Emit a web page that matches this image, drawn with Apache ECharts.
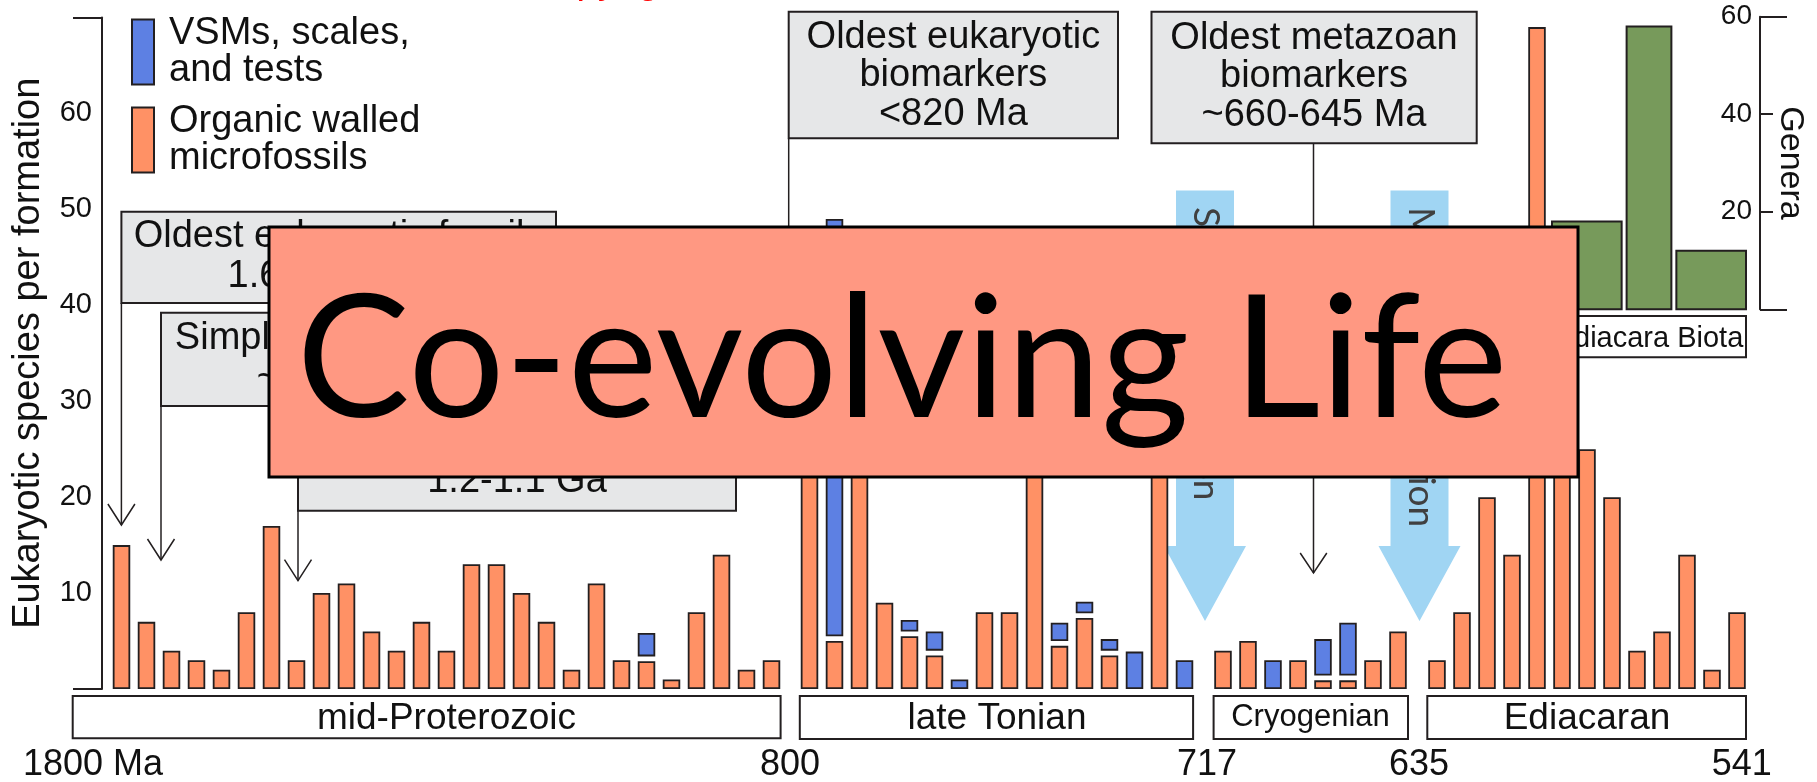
<!DOCTYPE html>
<html>
<head>
<meta charset="utf-8">
<title>Co-evolving Life</title>
<script src="https://cdn.jsdelivr.net/npm/echarts@6/dist/echarts.min.js"></script>
<style>
  html, body { margin: 0; padding: 0; background: #fff; }
  #chart { width: 1817px; height: 782px; }
</style>
</head>
<body>
<div id="chart"></div>
<script>
// eukaryotic species per formation, oldest formation first
// OWM = organic walled microfossils, VSM = vase shaped microfossils, scales and tests
const midProterozoicOwm = [15, 7, 4, 3, 2, 8, 17, 3, 10, 11, 6, 4, 7, 4, 13, 13, 10, 7, 2, 11, 3, 2.9, 1, 8, 14, 2, 3];
const midProterozoicVsm = [0, 0, 0, 0, 0, 0, 0, 0, 0, 0, 0, 0, 0, 0, 0, 0, 0, 0, 0, 0, 0, 2.45, 0, 0, 0, 0, 0];
const lateTonianOwm = [30, 5, 34, 9, 5.5, 3.5, 0, 8, 8, 27, 4.5, 7.4, 3.5, 0, 38, 0];
const lateTonianVsm = [0, 43.5, 0, 0, 1.2, 2, 1, 0, 0, 0, 1.9, 1.2, 1.2, 3.9, 0, 3];
const cryogenianOwm = [4, 5, 0, 3, 0.9, 0.9, 3, 6];
const cryogenianVsm = [0, 0, 3, 0, 3.8, 5.5, 0, 0];
const ediacaranOwm = [3, 8, 20, 14, 69, 33, 25, 20, 4, 6, 14, 2, 8];
const ediacaranVsm = [0, 0, 0, 0, 0, 0, 0, 0, 0, 0, 0, 0, 0];
const periodNames = ['mid-Proterozoic', 'late Tonian', 'Cryogenian', 'Ediacaran'];
const boundaryAges = ['1800 Ma', '800', '717', '635', '541'];

// Ediacara biota inset: genera per assemblage
const ediacaraAssemblages = ['Avalon', 'White Sea', 'Nama'];
const ediacaraStart = [580, 565, 555];
const ediacaraEnd = [566, 556, 541];
const ediacaraGenera = [18, 58, 12];

const ORANGE = '#FF9165';
const BLUE = '#5D80E3';
const GREEN = '#779A5B';
const EDGE = '#231F20';
const TXT = '#111';
const FONT = 'Liberation Sans, Arial, sans-serif';
const VSM_NAME = 'VSMs, scales,\nand tests';
const OWM_NAME = 'Organic walled\nmicrofossils';
const GAP = 0.5; // white gap drawn between stacked blocks

const periods = [
  { owm: midProterozoicOwm, vsm: midProterozoicVsm, grid: { left: 109, width: 675 }, nameSize: 37, nameGap: 11 },
  { owm: lateTonianOwm, vsm: lateTonianVsm, grid: { left: 797, width: 400 }, nameSize: 37, nameGap: 11 },
  { owm: cryogenianOwm, vsm: cryogenianVsm, grid: { left: 1210.5, width: 200 }, nameSize: 31, nameGap: 13 },
  { owm: ediacaranOwm, vsm: ediacaranVsm, grid: { left: 1424.5, width: 325 }, nameSize: 37, nameGap: 11 }
];

const grids = [], xAxes = [], yAxes = [], series = [];
const nz = v => (v > 0 ? v : null);

periods.forEach((p, i) => {
  grids.push({ left: p.grid.left, width: p.grid.width, top: 17.5, height: 671.5, outerBoundsMode: 'none' });
  xAxes.push({
    gridIndex: i, type: 'category', data: p.owm.map((_, k) => k + 1),
    axisLine: { show: false }, axisTick: { show: false }, axisLabel: { show: false },
    name: periodNames[i], nameLocation: 'middle', nameGap: p.nameGap, nameMoveOverlap: false,
    nameTextStyle: { fontSize: p.nameSize, fontFamily: FONT, color: TXT }
  });
});

// left axis: labels 10..60, end marks at 0 and 70
yAxes.push({
  gridIndex: 0, type: 'value', position: 'left', min: 0, max: 70, interval: 10, offset: 7,
  axisLine: { show: true, lineStyle: { color: EDGE, width: 2 } },
  axisTick: { show: false }, splitLine: { show: false },
  axisLabel: { fontSize: 29, fontFamily: FONT, color: TXT, margin: 10,
    formatter: v => (v === 0 || v === 70) ? '' : String(v) },
  name: 'Eukaryotic species per formation', nameLocation: 'middle', nameGap: 54, nameMoveOverlap: false,
  nameTextStyle: { fontSize: 38, fontFamily: FONT, color: TXT }
});
yAxes.push({
  gridIndex: 0, type: 'value', position: 'left', min: 0, max: 70, interval: 70, offset: 7,
  axisLine: { show: false }, axisLabel: { show: false }, splitLine: { show: false },
  axisTick: { show: true, length: 29, lineStyle: { color: EDGE, width: 2 } }
});
for (let i = 1; i < 4; i++) {
  yAxes.push({ gridIndex: i, type: 'value', min: 0, max: 70, show: false, splitLine: { show: false } });
}

const yIndexOf = [0, 2, 3, 4];
periods.forEach((p, i) => {
  const common = { type: 'bar', xAxisIndex: i, yAxisIndex: yIndexOf[i], stack: 'p' + i, barWidth: 17.5 };
  series.push(Object.assign({}, common, {
    name: OWM_NAME, data: p.owm.map(nz),
    itemStyle: { color: ORANGE, borderColor: EDGE, borderWidth: 1.8 }
  }));
  series.push(Object.assign({}, common, {
    name: 'gap', silent: true,
    data: p.owm.map((v, k) => (v > 0 && p.vsm[k] > 0 ? GAP : null)),
    itemStyle: { color: 'rgba(0,0,0,0)', borderWidth: 0 }
  }));
  series.push(Object.assign({}, common, {
    name: VSM_NAME, data: p.vsm.map(nz),
    itemStyle: { color: BLUE, borderColor: EDGE, borderWidth: 1.8 }
  }));
});

// Ediacara biota inset
grids.push({ left: 1552, width: 194, top: 16.7, height: 292.6, outerBoundsMode: 'none' });
xAxes.push({ gridIndex: 4, type: 'value', min: 541, max: 580, inverse: true, show: false, splitLine: { show: false } });
yAxes.push({
  gridIndex: 4, type: 'value', position: 'right', offset: 14, min: 0, max: 60, interval: 20,
  axisLine: { show: true, lineStyle: { color: EDGE, width: 2 } },
  axisTick: { show: true, length: 13, lineStyle: { color: EDGE, width: 2 } },
  splitLine: { show: false },
  axisLabel: { inside: true, margin: 8, fontSize: 28, fontFamily: FONT, color: TXT,
    formatter: v => (v === 0 ? '' : String(v)) },
  name: 'Genera', nameLocation: 'middle', nameRotate: -90, nameGap: 13, nameMoveOverlap: false,
  nameTextStyle: { fontSize: 34, fontFamily: FONT, color: TXT }
});
yAxes.push({
  gridIndex: 4, type: 'value', position: 'right', offset: 14, min: 0, max: 60, interval: 60,
  axisLine: { show: false }, axisLabel: { show: false }, splitLine: { show: false },
  axisTick: { show: true, length: 27, lineStyle: { color: EDGE, width: 2 } }
});
series.push({
  type: 'custom', name: 'Ediacara genera', xAxisIndex: 4, yAxisIndex: 5,
  data: ediacaraGenera.map((g, k) => [ediacaraStart[k], ediacaraEnd[k], g, ediacaraAssemblages[k]]),
  encode: { x: [0, 1], y: 2 },
  renderItem: (params, api) => {
    const a = api.coord([api.value(0), api.value(2)]);
    const b = api.coord([api.value(1), 0]);
    return {
      type: 'rect',
      shape: { x: a[0], y: a[1], width: b[0] - a[0], height: b[1] - a[1] },
      style: { fill: GREEN, stroke: EDGE, lineWidth: 2 }
    };
  }
});

// annotation helpers
const rect = (x, y, w, h, fill, z) => ({
  type: 'rect', z: z || 10, shape: { x, y, width: w, height: h },
  style: { fill, stroke: EDGE, lineWidth: 2 }
});
const text = (t, x, y, size, opts) => Object.assign({
  type: 'text', x, y, z: 11,
  style: Object.assign({
    text: t, fontSize: size, fontFamily: FONT, fill: TXT,
    align: 'center', verticalAlign: 'middle', textAlign: 'center', textVerticalAlign: 'middle'
  }, opts || {})
});
const line = (pts, z) => ({
  type: 'polyline', z: z || 10, shape: { points: pts },
  style: { stroke: EDGE, lineWidth: 1.5, fill: null }
});
const arrowDown = (x, y1, y2, half, headLen) => [
  line([[x, y1], [x, y2]]),
  line([[x - half, y2 - headLen], [x, y2], [x + half, y2 - headLen]])
];

const graphics = [];

// callouts
graphics.push(rect(121.4, 211.7, 434.6, 91.3, '#E6E7E8'));
graphics.push(text('Oldest eukaryotic fossils\n1.65-1.60 Ga', 338.5, 257, 38, { lineHeight: 40 }));
graphics.push(...arrowDown(121.4, 303, 525, 13.5, 21));

graphics.push(rect(161, 312.7, 393, 93.3, '#E6E7E8'));
graphics.push(text('Simple multicellularity\n~1.6-1.4 Ga', 357.5, 358.5, 38, { lineHeight: 40 }));
graphics.push(...arrowDown(161, 406, 560, 13.5, 21));

graphics.push(rect(298, 418, 438, 92.7, '#E6E7E8'));
graphics.push(text('Oldest red algae\n1.2-1.1 Ga', 517, 462.5, 38, { lineHeight: 39 }));
graphics.push(...arrowDown(298, 510.7, 580.7, 13.5, 21));

graphics.push(rect(788.7, 11.7, 329.3, 126.6, '#E6E7E8'));
graphics.push(text('Oldest eukaryotic\nbiomarkers\n<820 Ma', 953.4, 76, 38, { lineHeight: 38.7 }));
graphics.push(...arrowDown(788.7, 138.3, 450, 13.5, 21));

graphics.push(rect(1151.5, 11.7, 325.2, 131.6, '#E6E7E8'));
graphics.push(text('Oldest metazoan\nbiomarkers\n~660-645 Ma', 1314, 77, 38, { lineHeight: 38.7 }));
graphics.push(...arrowDown(1313.5, 143.3, 573, 13.3, 20));

// glaciation arrows
const glaciations = ['Sturtian glaciation', 'Marinoan glaciation'];
const glaciationX = [1205, 1419.5];
glaciations.forEach((g, k) => {
  const c = glaciationX[k];
  graphics.push({
    type: 'polygon', z: 1,
    shape: { points: [[c - 29, 190.5], [c + 29, 190.5], [c + 29, 546], [c + 41, 546], [c, 621], [c - 41, 546], [c - 29, 546]] },
    style: { fill: '#A0D5F3' }
  });
  graphics.push({
    type: 'text', x: c + 1, y: 207, rotation: -Math.PI / 2, z: 3,
    style: { text: g, fontSize: 37, fontFamily: 'Lato, sans-serif', fill: '#404040',
      align: 'left', verticalAlign: 'middle', textAlign: 'left', textVerticalAlign: 'middle' }
  });
});

// period boxes and boundary ages
graphics.push(rect(72.7, 696, 707.9, 42.3, 'none', 1));
graphics.push(rect(799.8, 696, 393.3, 43, 'none', 1));
graphics.push(rect(1213.6, 696, 194.4, 43, 'none', 1));
graphics.push(rect(1427.3, 696, 318.7, 43, 'none', 1));
const ageX = [23, 790, 1207, 1419, 1741.7];
boundaryAges.forEach((a, k) => {
  graphics.push(text(a, ageX[k], 765.5, 36, k === 0 ? { align: 'left', textAlign: 'left' } : {}));
});

// Ediacara biota label
graphics.push(rect(1552, 316, 194, 41.3, '#fff', 5));
graphics.push(text('Ediacara Biota', 1649, 339, 29, {}));

// slide header remnant
graphics.push({
  type: 'text', x: 528, y: 2, z: 11,
  style: { text: 'Copyright', fontSize: 38, fontFamily: FONT, fill: '#FF0000',
    align: 'left', verticalAlign: 'bottom', textAlign: 'left', textVerticalAlign: 'bottom' }
});

// slide title box
graphics.push({
  type: 'rect', z: 100, shape: { x: 269, y: 227, width: 1309, height: 250 },
  style: { fill: '#FF9882', stroke: '#000', lineWidth: 3 }
});
graphics.push({
  type: 'text', x: 902, y: 362, z: 101,
  style: { text: 'Co-evolving Life', fontSize: 170, fontFamily: 'Lato, sans-serif', fill: '#000',
    align: 'center', verticalAlign: 'middle', textAlign: 'center', textVerticalAlign: 'middle' }
});

const chart = echarts.init(document.getElementById('chart'), null, { renderer: 'canvas' });
chart.setOption({
  animation: false,
  backgroundColor: '#fff',
  legend: {
    data: [{ name: VSM_NAME, icon: 'rect' }, { name: OWM_NAME, icon: 'rect' }],
    orient: 'vertical', left: 131, top: 14.5, padding: 0,
    itemWidth: 22, itemHeight: 65, itemGap: 13, selectedMode: false,
    itemStyle: { borderColor: EDGE, borderWidth: 2 },
    textStyle: { fontSize: 38, lineHeight: 37, fontFamily: FONT, color: TXT, padding: [0, 0, 0, 10] }
  },
  grid: grids,
  xAxis: xAxes,
  yAxis: yAxes,
  series: series,
  graphic: { elements: graphics }
});
</script>
</body>
</html>
